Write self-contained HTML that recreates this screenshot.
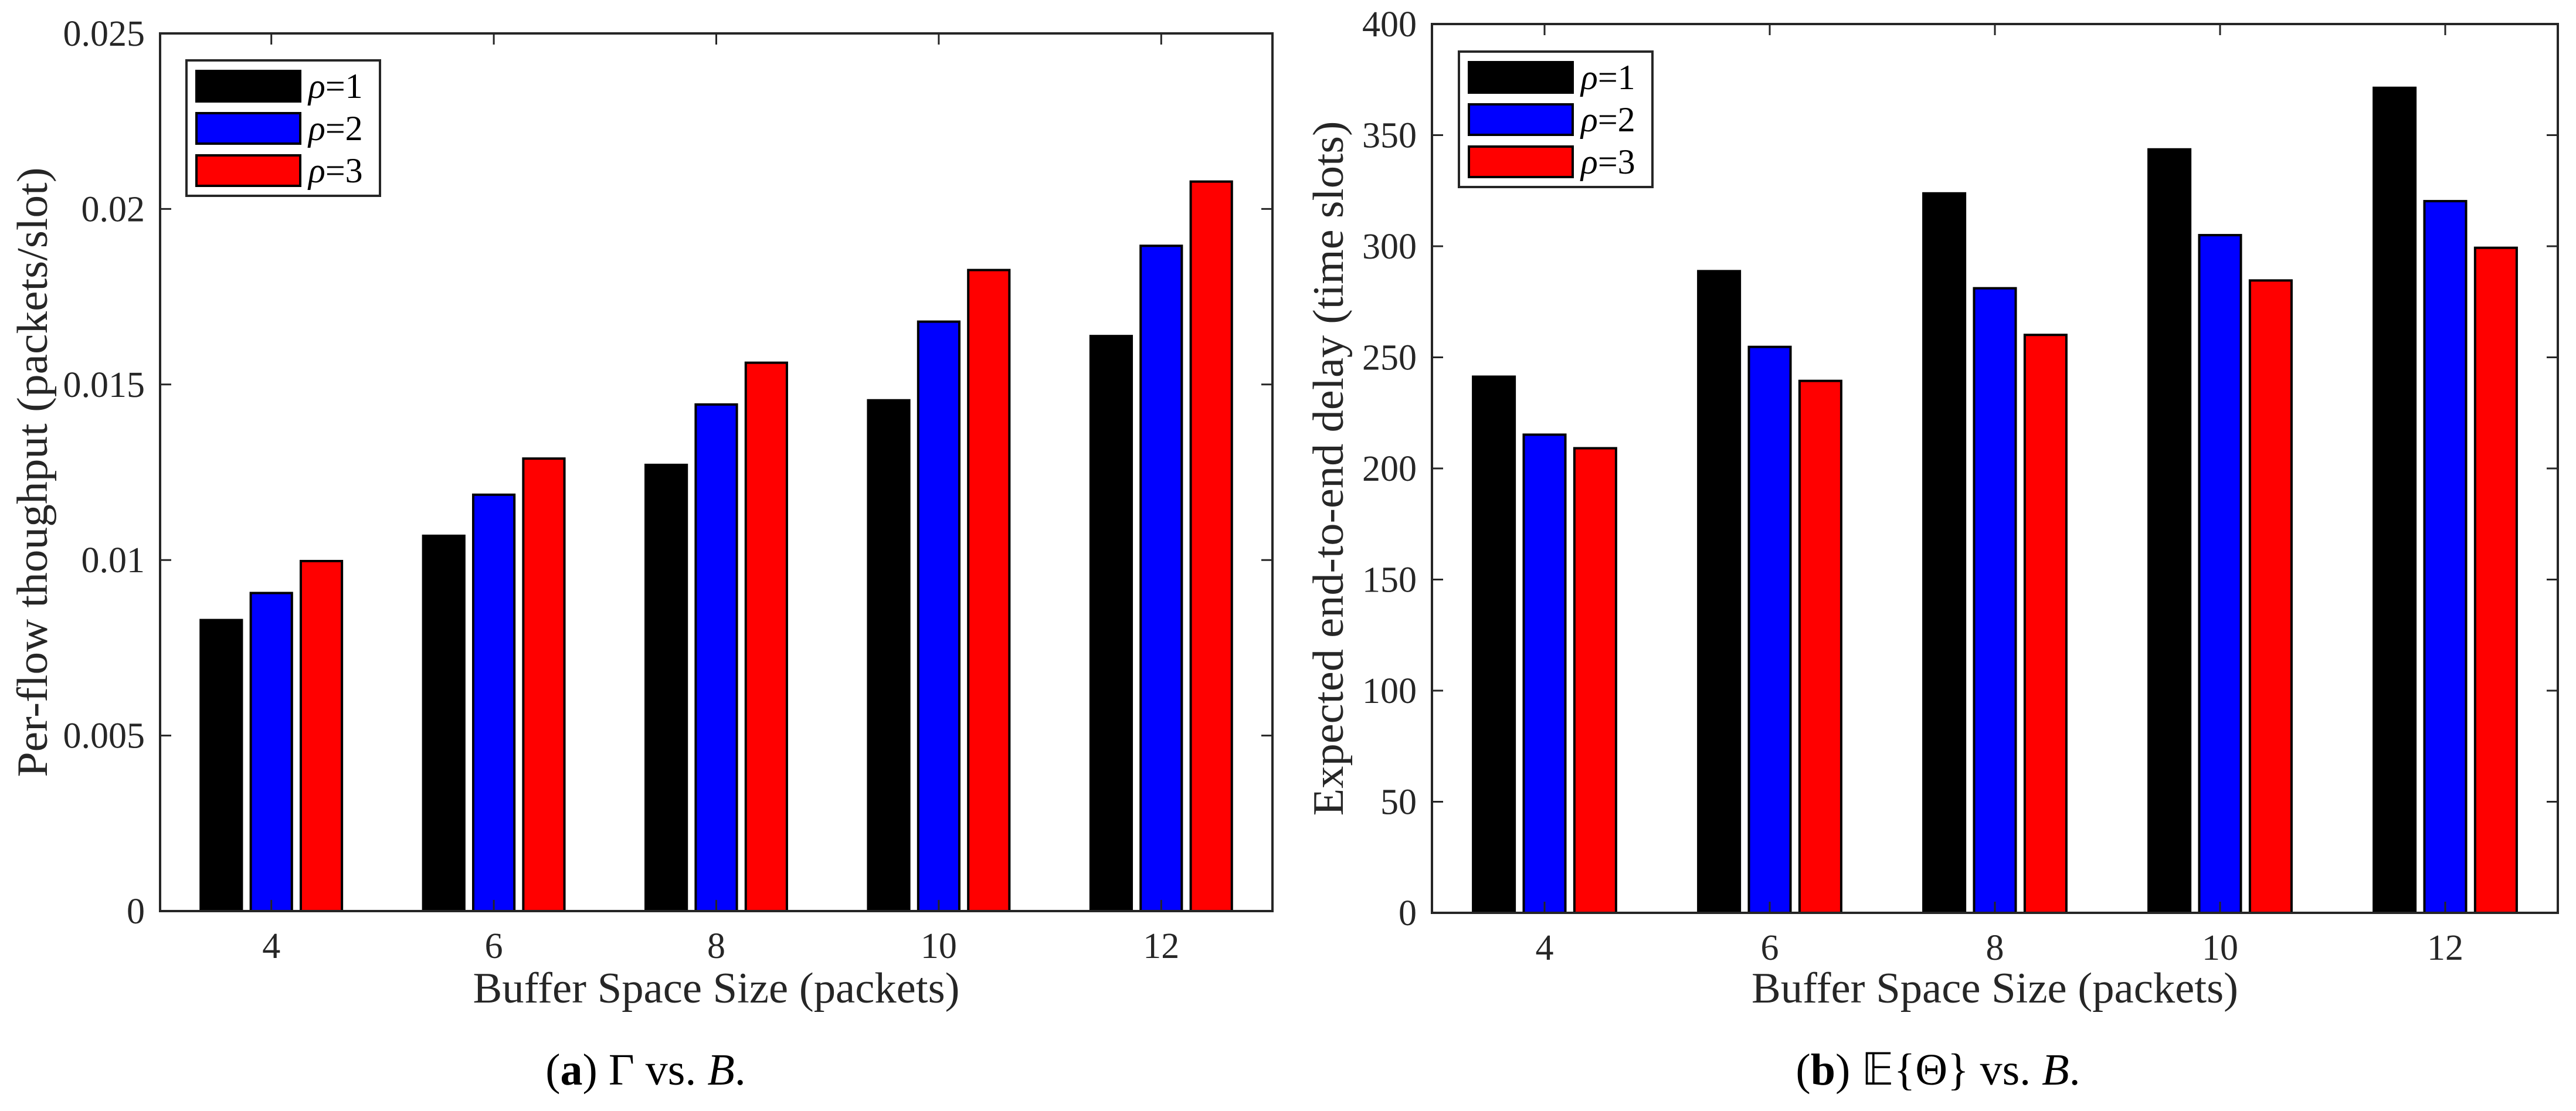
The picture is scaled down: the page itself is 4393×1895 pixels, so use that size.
<!DOCTYPE html>
<html><head><meta charset="utf-8"><style>
html,body{margin:0;padding:0;background:#fff;}
svg{display:block;}
text{font-family:"Liberation Serif",serif;fill:#262626;}
</style></head><body>
<svg id="fig" width="4393" height="1895" viewBox="0 0 4393 1895" xmlns="http://www.w3.org/2000/svg">
<g id="pa"></g>
<g id="pb"></g>
<text x="1101" y="1850" text-anchor="middle" font-size="76" style="fill:#000">(<tspan font-weight="bold">a</tspan>) Γ vs. <tspan font-style="italic">B</tspan>.</text>
<text x="3305" y="1850" text-anchor="middle" font-size="76" style="fill:#000">(<tspan font-weight="bold">b</tspan>) 𝔼{Θ} vs. <tspan font-style="italic">B</tspan>.</text>
</svg>
<script>
const categories = [4, 6, 8, 10, 12];
const seriesNames = ["ρ=1", "ρ=2", "ρ=3"];
const seriesColors = ["#000000", "#0000ff", "#ff0000"];
const throughputRho1 = [0.00829, 0.01069, 0.01271, 0.01455, 0.01638];
const throughputRho2 = [0.00906, 0.01186, 0.01443, 0.01679, 0.01895];
const throughputRho3 = [0.00997, 0.01289, 0.01562, 0.01826, 0.02078];
const throughputTicks = [0, 0.005, 0.01, 0.015, 0.02, 0.025];
const throughputTickLabels = ["0", "0.005", "0.01", "0.015", "0.02", "0.025"];
const delayRho1 = [241.3, 288.8, 323.8, 343.6, 371.3];
const delayRho2 = [215.2, 254.7, 281.1, 305.0, 320.3];
const delayRho3 = [209.1, 239.4, 260.1, 284.6, 299.3];
const delayTicks = [0, 50, 100, 150, 200, 250, 300, 350, 400];
const delayTickLabels = ["0", "50", "100", "150", "200", "250", "300", "350", "400"];

const NS = "http://www.w3.org/2000/svg";
function mk(parent, tag, attrs, txt) {
  const e = document.createElementNS(NS, tag);
  for (const k in attrs) e.setAttribute(k, attrs[k]);
  if (txt !== undefined) e.textContent = txt;
  parent.appendChild(e);
  return e;
}

function drawChart(g, cfg) {
  const L = cfg.L, R = cfg.R, T = cfg.T, B = cfg.B;
  const xs = v => L + (v - 3) / 10 * (R - L);
  const ys = v => B - v / cfg.ymax * (B - T);
  const unit = (R - L) / 10;
  const bw = 0.37 * unit, off = 0.45;
  const series = cfg.series;
  series.forEach((vals, s) => {
    vals.forEach((v, i) => {
      const cx = xs(categories[i] + (s - 1) * off);
      const r = mk(g, "rect", {x: cx - bw / 2, y: ys(v), width: bw, height: ys(0) - ys(v),
        fill: seriesColors[s], stroke: "#000", "stroke-width": 4});
      
      
    });
  });
  // axes box
  const box = mk(g, "rect", {x: L, y: T, width: R - L, height: B - T, fill: "none", stroke: "#262626", "stroke-width": 4});
  
  
  // x ticks
  categories.forEach(c => {
    const x = xs(c);
    mk(g, "line", {x1: x, y1: B, x2: x, y2: B - 19, stroke: "#262626", "stroke-width": 3});
    mk(g, "line", {x1: x, y1: T, x2: x, y2: T + 19, stroke: "#262626", "stroke-width": 3});
    const t = mk(g, "text", {x: x, y: B + 80, "text-anchor": "middle", "font-size": 62}, String(c));
    
    
  });
  cfg.ticks.forEach((v, i) => {
    const y = ys(v);
    mk(g, "line", {x1: L, y1: y, x2: L + 19, y2: y, stroke: "#262626", "stroke-width": 3});
    mk(g, "line", {x1: R, y1: y, x2: R - 19, y2: y, stroke: "#262626", "stroke-width": 3});
    const t = mk(g, "text", {x: L - 26, y: y + 21, "text-anchor": "end", "font-size": 62}, cfg.tickLabels[i]);
    
    
  });
  const xl = mk(g, "text", {x: (L + R) / 2, y: 1710, "text-anchor": "middle", "font-size": 74, textLength: 830, lengthAdjust: "spacingAndGlyphs"}, "Buffer Space Size (packets)");
  
  
  const cy = (T + B) / 2;
  const yl = mk(g, "text", {x: cfg.ylx, y: cy, "text-anchor": "middle", "font-size": 74, textLength: cfg.ylLen, lengthAdjust: "spacingAndGlyphs", transform: "rotate(-90 " + cfg.ylx + " " + cy + ")"}, cfg.ylabel);
  
  
  // legend
  const lg = mk(g, "g", {});
  
  
  const lb = cfg.leg;
  mk(lg, "rect", {x: lb.x, y: lb.y, width: 330, height: 231, fill: "#fff", stroke: "#262626", "stroke-width": 4});
  seriesNames.forEach((n, s) => {
    const ry = lb.y + 16 + s * 72;
    const e = mk(lg, "g", {});
    
    
    mk(e, "rect", {x: lb.x + 17, y: ry + 2, width: 177, height: 52, fill: seriesColors[s], stroke: "#000", "stroke-width": 4});
    const t = mk(e, "text", {x: lb.x + 208, y: ry + 48, "font-size": 60, style: "fill:#000"});
    mk(t, "tspan", {"font-style": "italic"}, "ρ");
    mk(t, "tspan", {}, "=" + (s + 1));
  });
}

drawChart(document.getElementById("pa"), {
  key: "throughput", L: 273, R: 2170, T: 57, B: 1554, ymax: 0.025,
  series: [throughputRho1, throughputRho2, throughputRho3],
  ticks: throughputTicks, tickLabels: throughputTickLabels,
  ylabel: "Per-flow thoughput (packets/slot)", ylx: 80, ylLen: 1040,
  leg: {x: 318, y: 103}
});
drawChart(document.getElementById("pb"), {
  key: "delay", L: 2442, R: 4362, T: 41, B: 1557, ymax: 400,
  series: [delayRho1, delayRho2, delayRho3],
  ticks: delayTicks, tickLabels: delayTickLabels,
  ylabel: "Expected end-to-end delay (time slots)", ylx: 2290, ylLen: 1185,
  leg: {x: 2488, y: 88}
});
</script>
</body></html>
